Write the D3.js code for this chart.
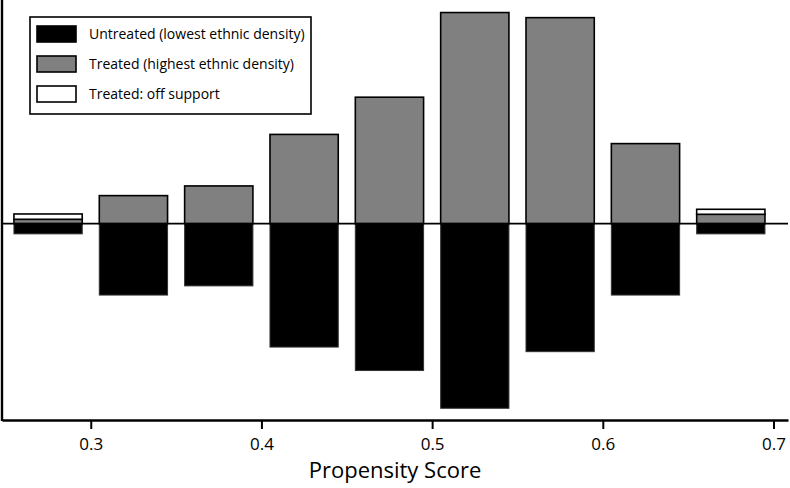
<!DOCTYPE html>
<html>
<head>
<meta charset="utf-8">
<script src="https://cdn.jsdelivr.net/npm/d3@7"></script>
<style>
  body { margin: 0; background: #fff; }
  svg text { font-family: "Open Sans", sans-serif; fill: #000; }
</style>
</head>
<body>
<div id="chart"></div>
<script>
// bin midpoints of the propensity score histogram
const binMids = [0.275, 0.325, 0.375, 0.425, 0.475, 0.525, 0.575, 0.625, 0.675];
// heights (counts)
const untreated  = [2.0, 14.0, 12.2, 24.2, 28.8, 36.2, 25.1, 14.0, 2.0];
const treatedOn  = [0.86, 5.5, 7.4, 17.5, 24.8, 41.4, 40.4, 15.7, 1.84];
const treatedOff = [1.04, 0, 0, 0, 0, 0, 0, 0, 0.98];
const xTicks = [0.3, 0.4, 0.5, 0.6, 0.7];
const legendLabels = ["Untreated (lowest ethnic density)", "Treated (highest ethnic density)", "Treated: off support"];
const legendColors = ["#000", "#808080", "#fff"];

const WIDTH = 790, HEIGHT = 488;
const binWidth = 0.04;

let svg = d3.select("#chart").append("svg")
    .attr("width", WIDTH)
    .attr("height", HEIGHT);

let x = d3.scaleLinear()
    .domain([0.248, 0.7085])
    .range([2, 788]);

let y = d3.scaleLinear()
    .domain([-38.5, 43.86])
    .range([420, 0]);

let data = binMids.map(function(m, i) {
    return {mid: m, down: untreated[i], on: treatedOn[i], off: treatedOff[i]};
});

let bars = svg.append("g");

// untreated below the line
bars.selectAll("rect.untr").data(data).enter()
    .append("rect")
    .attr("class", "untr")
    .attr("x", d => x(d.mid - binWidth/2))
    .attr("width", d => x(d.mid + binWidth/2) - x(d.mid - binWidth/2))
    .attr("y", y(0))
    .attr("height", d => y(-d.down) - y(0))
    .attr("fill", "#000")
    .attr("stroke", "#333")
    .attr("stroke-width", 1);

// treated on support above the line
bars.selectAll("rect.on").data(data).enter()
    .append("rect")
    .attr("class", "on")
    .attr("x", d => x(d.mid - binWidth/2))
    .attr("width", d => x(d.mid + binWidth/2) - x(d.mid - binWidth/2))
    .attr("y", d => y(d.on))
    .attr("height", d => y(0) - y(d.on))
    .attr("fill", "#808080")
    .attr("stroke", "#000")
    .attr("stroke-width", 1.6);

// treated off support stacked on top
bars.selectAll("rect.off").data(data.filter(d => d.off > 0)).enter()
    .append("rect")
    .attr("class", "off")
    .attr("x", d => x(d.mid - binWidth/2))
    .attr("width", d => x(d.mid + binWidth/2) - x(d.mid - binWidth/2))
    .attr("y", d => y(d.on + d.off))
    .attr("height", d => y(d.on) - y(d.on + d.off))
    .attr("fill", "#fff")
    .attr("stroke", "#000")
    .attr("stroke-width", 1.6);

// zero line
svg.append("line")
    .attr("x1", x.range()[0]).attr("x2", x.range()[1])
    .attr("y1", y(0)).attr("y2", y(0))
    .attr("stroke", "#000")
    .attr("stroke-width", 1.6);

// x axis
let xAxis = svg.append("g")
    .attr("transform", `translate(0,${y.range()[0]})`)
    .call(d3.axisBottom(x).tickValues(xTicks).tickFormat(d3.format(".1f"))
        .tickSizeInner(9).tickSizeOuter(0).tickPadding(9));
xAxis.select(".domain").attr("stroke-width", 2.4);
xAxis.selectAll(".tick line").attr("stroke-width", 2);
xAxis.selectAll(".tick text")
    .style("font-family", "'Open Sans', sans-serif")
    .style("font-size", "17px");

// y axis line, no ticks
svg.append("line")
    .attr("x1", x.range()[0]).attr("x2", x.range()[0])
    .attr("y1", y.range()[1]).attr("y2", y.range()[0] + 1)
    .attr("stroke", "#000")
    .attr("stroke-width", 2.4);

// x axis label
svg.append("text")
    .attr("x", (x.range()[0] + x.range()[1]) / 2)
    .attr("y", 478)
    .attr("text-anchor", "middle")
    .style("font-size", "22px")
    .text("Propensity Score");

// legend
let legend = svg.append("g").attr("transform", "translate(30,17)");
legend.append("rect")
    .attr("x", 0).attr("y", 0)
    .attr("width", 281).attr("height", 97)
    .attr("fill", "#fff")
    .attr("stroke", "#000")
    .attr("stroke-width", 1.6);

let items = legend.selectAll("g.item").data(legendLabels).enter()
    .append("g")
    .attr("class", "item")
    .attr("transform", (d, i) => `translate(7,${9 + i*30})`);

items.append("rect")
    .attr("width", 39).attr("height", 16)
    .attr("fill", (d, i) => legendColors[i])
    .attr("stroke", "#000")
    .attr("stroke-width", 1.6);

items.append("text")
    .attr("x", 52)
    .attr("y", 8)
    .attr("dy", "0.35em")
    .style("font-size", "14px")
    .text(d => d);
</script>
</body>
</html>
